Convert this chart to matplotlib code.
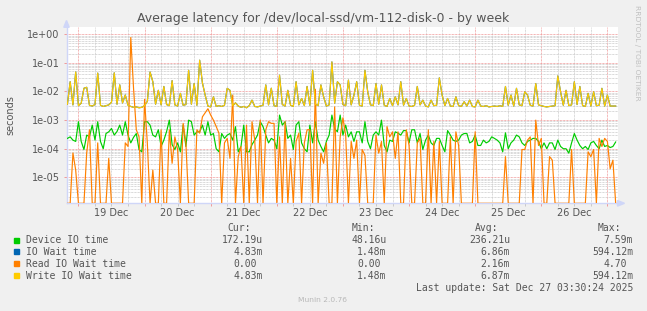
import matplotlib
matplotlib.use('Agg')
import matplotlib.pyplot as plt
import matplotlib.dates as mdates
from matplotlib.ticker import LogLocator, FuncFormatter, NullFormatter
from matplotlib.patches import Polygon, Rectangle
import numpy as np
import pandas as pd

# hourly samples, first sample at 2025-12-18 20:00
start = '2025-12-18 20:00'

device_io = [
    2.3e-4, 2.6e-4, 2.0e-4, 1.8e-4, 8.8e-4, 1.8e-4, 9.4e-5, 3.0e-4, 2.6e-4, 6.7e-4,
    2.0e-4, 8.8e-4, 1.8e-4, 1.0e-4, 3.4e-4, 3.9e-4, 5.1e-4, 3.0e-4, 4.0e-4, 6.7e-4,
    3.0e-4, 8.8e-4, 3.0e-4, 1.6e-4, 2.5e-4, 3.4e-4, 9.4e-5, 7.8e-5, 8.8e-4, 8.8e-4,
    6.7e-4, 3.0e-4, 2.6e-4, 4.6e-4, 1.2e-4, 2.0e-4, 4.0e-4, 1.0e-3, 1.4e-4, 9.4e-5,
    1.6e-4, 7.8e-5, 6.7e-4, 1.2e-4, 1.0e-3, 8.8e-4, 3.0e-4, 3.9e-4, 3.9e-4, 6.7e-4,
    3.0e-4, 8.8e-4, 3.0e-4, 3.4e-4, 1.0e-4, 7.8e-5, 3.4e-4, 2.3e-4, 3.0e-4, 3.4e-4,
    2.0e-4, 5.9e-4, 7.8e-5, 1.2e-4, 6.7e-4, 7.8e-5, 7.8e-5, 1.4e-4, 2.0e-4, 3.0e-4,
    8.8e-4, 5.9e-4, 3.0e-4, 1.6e-4, 2.3e-4, 2.0e-4, 1.0e-4, 1.5e-3, 6.7e-4, 8.8e-4,
    2.3e-4, 3.0e-4, 9.4e-5, 6.7e-4, 8.8e-4, 1.6e-4, 1.0e-4, 7.8e-5, 6.7e-4, 1.6e-4,
    8.8e-4, 2.0e-4, 1.2e-4, 7.8e-5, 1.8e-4, 3.0e-4, 1.5e-3, 5.0e-4, 3.9e-4, 1.5e-3,
    3.0e-4, 6.7e-4, 2.6e-4, 3.9e-4, 1.8e-4, 3.9e-4, 3.9e-4, 1.6e-4, 8.8e-4, 1.8e-4,
    1.0e-4, 3.0e-4, 3.9e-4, 3.0e-4, 1.0e-3, 1.3e-4, 7.8e-5, 2.0e-4, 1.8e-4, 3.9e-4,
    3.5e-4, 3.0e-4, 4.3e-4, 4.3e-4, 1.6e-4, 4.6e-4, 4.6e-4, 1.6e-4, 3.4e-4, 9.4e-5,
    2.0e-4, 3.0e-4, 1.6e-4, 1.3e-4, 2.3e-4, 2.3e-4, 1.3e-4, 7.8e-5, 4.3e-4, 3.0e-4,
    2.0e-4, 1.8e-4, 2.0e-4, 3.0e-4, 3.4e-4, 3.4e-4, 1.6e-4, 1.8e-4, 3.0e-4, 1.3e-4,
    1.3e-4, 2.0e-4, 1.6e-4, 1.8e-4, 2.6e-4, 2.3e-4, 2.0e-4, 1.6e-4, 7.8e-5, 3.6e-4,
    1.0e-4, 1.6e-4, 2.0e-4, 3.0e-4, 2.6e-4, 1.6e-4, 1.3e-4, 1.8e-4, 2.0e-4, 2.3e-4,
    2.3e-4, 1.8e-4, 1.0e-4, 1.6e-4, 1.0e-4, 1.6e-4, 1.6e-4, 9.4e-5, 2.0e-4, 1.2e-4,
    1.0e-4, 1.0e-4, 7.0e-5, 1.6e-4, 3.4e-4, 2.0e-4, 1.3e-4, 1.0e-4, 1.2e-4, 9.4e-5,
    1.6e-4, 1.8e-4, 1.3e-4, 1.0e-4, 2.0e-4, 1.2e-4, 1.3e-4, 1.1e-4, 1.2e-4, 1.72e-4,
]

write_wait = [
    3.6e-3, 0.022, 3.4e-3, 0.048, 3.2e-3, 3.9e-3, 0.013, 0.014, 3.3e-3, 3.1e-3,
    3.5e-3, 0.044, 3.3e-3, 3.0e-3, 3.2e-3, 3.4e-3, 4.2e-3, 0.045, 3.6e-3, 0.017,
    4.0e-3, 7.5e-3, 3.3e-3, 3.0e-3, 2.8e-3, 2.9e-3, 2.7e-3, 2.8e-3, 3.2e-3, 4.5e-3,
    0.048, 0.022, 3.6e-3, 0.011, 3.4e-3, 0.015, 3.5e-3, 3.2e-3, 0.024, 3.4e-3,
    3.1e-3, 8.6e-3, 3.3e-3, 3.5e-3, 0.055, 3.6e-3, 0.019, 3.3e-3, 0.124, 0.020,
    7.5e-3, 3.1e-3, 2.9e-3, 6.5e-3, 3.0e-3, 3.2e-3, 3.0e-3, 3.3e-3, 0.0129, 0.011,
    3.2e-3, 4.0e-3, 3.1e-3, 2.8e-3, 3.0e-3, 2.7e-3, 3.2e-3, 5.0e-3, 3.0e-3, 2.9e-3,
    3.1e-3, 3.3e-3, 0.017, 3.4e-3, 0.013, 3.2e-3, 3.0e-3, 0.037, 3.5e-3, 3.1e-3,
    0.011, 3.3e-3, 3.0e-3, 0.022, 3.4e-3, 5.7e-3, 3.2e-3, 0.015, 3.3e-3, 0.055,
    3.6e-3, 3.2e-3, 0.017, 6.5e-3, 3.1e-3, 3.4e-3, 0.108, 3.9e-3, 0.022, 0.017,
    3.5e-3, 3.2e-3, 0.025, 3.4e-3, 7.5e-3, 0.022, 3.3e-3, 3.1e-3, 0.055, 9.8e-3,
    3.4e-3, 3.2e-3, 0.019, 3.6e-3, 0.017, 3.3e-3, 3.0e-3, 5.7e-3, 3.2e-3, 6.5e-3,
    3.4e-3, 0.022, 3.3e-3, 5.7e-3, 3.1e-3, 3.0e-3, 3.3e-3, 0.015, 3.4e-3, 5.0e-3,
    3.1e-3, 2.9e-3, 5.0e-3, 3.2e-3, 3.3e-3, 0.030, 7.5e-3, 3.2e-3, 5.7e-3, 3.1e-3,
    3.0e-3, 6.5e-3, 3.2e-3, 3.0e-3, 4.4e-3, 3.1e-3, 5.0e-3, 3.0e-3, 2.9e-3, 5.0e-3,
    3.1e-3, 3.0e-3, 3.2e-3, 2.9e-3, 3.0e-3, 3.1e-3, 3.0e-3, 3.2e-3, 3.0e-3, 0.015,
    3.3e-3, 7.5e-3, 3.1e-3, 0.0129, 3.4e-3, 3.2e-3, 9.8e-3, 7.5e-3, 3.3e-3, 3.1e-3,
    0.019, 3.4e-3, 3.2e-3, 3.0e-3, 2.9e-3, 3.0e-3, 3.1e-3, 3.2e-3, 0.035, 9.8e-3,
    3.3e-3, 0.011, 3.2e-3, 3.4e-3, 0.022, 3.5e-3, 0.015, 3.2e-3, 3.0e-3, 8.6e-3,
    3.1e-3, 9.8e-3, 3.2e-3, 3.3e-3, 0.0129, 3.1e-3, 7.5e-3, 3.1e-3, 3.1e-3, 3.1e-3,
]

# overall io wait sits right under the write wait line
io_wait = list(write_wait)

read_wait = [
    0, 0, 7.1e-5, 1.8e-5, 0, 0, 0, 7.1e-5, 4.6e-4, 0,
    0, 1.6e-4, 0, 0, 0, 4.6e-5, 0, 0, 0, 0,
    0, 1.6e-4, 1.2e-4, 0.77, 0.013, 4.6e-4, 2.6e-4, 0, 5.3e-3, 1.6e-4,
    0, 1.8e-5, 0, 0, 4.6e-4, 0, 0, 4.6e-4, 3.1e-5, 2.6e-4,
    9.4e-5, 0, 7.7e-4, 1.6e-4, 0, 0, 0, 4.6e-4, 3.5e-4, 1.3e-3,
    1.8e-3, 2.5e-3, 1.5e-3, 1.0e-3, 6.0e-4, 3.5e-4, 0, 1.6e-4, 2.3e-4, 4.6e-5,
    7.5e-3, 0, 5.3e-5, 1.2e-4, 0, 6.7e-4, 0, 8.8e-4, 2.0e-4, 0,
    1.0e-3, 0, 4.6e-4, 8.8e-4, 7.7e-4, 7.7e-4, 0, 2.6e-4, 0, 8.8e-4,
    0, 4.6e-5, 0, 1.8e-4, 3.5e-4, 0, 1.6e-4, 4.6e-4, 4.6e-4, 0,
    0.012, 0, 7.0e-5, 3.1e-5, 1.6e-4, 0, 0, 2.9e-3, 0, 2.6e-4,
    1.2e-3, 3.0e-4, 0, 1.8e-4, 4.6e-5, 2.0e-4, 0, 9.4e-5, 5.8e-5, 0,
    0, 0, 3.0e-4, 7.0e-5, 1.8e-4, 0, 5.9e-4, 2.6e-4, 3.9e-4, 4.6e-5,
    3.9e-4, 0, 0, 4.6e-4, 1.3e-4, 0, 0, 1.6e-4, 2.3e-4, 0,
    0, 4.6e-4, 0, 1.8e-4, 0, 1.8e-4, 0, 0, 0, 2.6e-4,
    0, 3.9e-4, 1.3e-4, 0, 0, 0, 0, 0, 3.9e-4, 0,
    0, 0, 0, 0, 0, 0, 0, 0, 0, 5.3e-5,
    0, 0, 0, 0, 0, 9.4e-5, 9.4e-5, 2.0e-4, 2.6e-4, 0,
    1.0e-3, 1.3e-4, 2.3e-4, 0, 0, 5.3e-5, 4.0e-5, 0, 0, 0,
    0, 0, 0, 9.4e-5, 0, 0, 0, 0, 0, 7.8e-5,
    5.3e-5, 9.4e-5, 0, 2.3e-4, 1.2e-4, 2.3e-4, 1.8e-4, 2.0e-5, 4.0e-5, 0,
]

series_names = ['Device IO time', 'IO Wait time', 'Read IO Wait time', 'Write IO Wait time']
series_colors = ['#00cc00', '#0066b3', '#ff8000', '#ffcc00']
cur_vals = ['172.19u', '4.83m', '0.00 ', '4.83m']
min_vals = ['48.16u', '1.48m', '0.00 ', '1.48m']
avg_vals = ['236.21u', '6.86m', '2.16m', '6.87m']
max_vals = ['7.59m', '594.12m', '4.70 ', '594.12m']

W, H = 647, 311
times = pd.date_range(start, periods=len(device_io), freq='h')
y_bottom, y_top = 1.24e-6, 1.75

fig = plt.figure(figsize=(W / 100, H / 100), dpi=100, facecolor='#f0f0f0')
x0, x1, ytop, ybot = 66.5, 617.5, 27.3, 203.3
ax = fig.add_axes([x0 / W, 1 - ybot / H, (x1 - x0) / W, (ybot - ytop) / H])
ax.set_facecolor('white')
ax.set_yscale('log')
ax.set_ylim(y_bottom, y_top)
ax.set_xlim(pd.Timestamp('2025-12-18 19:40'), pd.Timestamp('2025-12-27 03:40'))

# zero values are drawn along the bottom edge like rrdtool does
for vals, col in zip([device_io, io_wait, read_wait, write_wait], series_colors):
    v = np.array(vals, dtype=float)
    v = np.where(v > 0, v, y_bottom)
    ax.plot(times, v, color=col, lw=0.85, zorder=3)

# grid
ax.xaxis.set_major_locator(mdates.DayLocator())
ax.xaxis.set_minor_locator(mdates.HourLocator(byhour=[6, 12, 18]))
ax.xaxis.set_major_formatter(NullFormatter())


def day_label(x, pos):
    d = mdates.num2date(x)
    if d.hour == 12:
        return f"{d.day} {d.strftime('%b')}"
    return ''


ax.xaxis.set_minor_formatter(FuncFormatter(day_label))
ax.yaxis.set_major_locator(LogLocator(base=10, numticks=20))
ax.yaxis.set_minor_locator(LogLocator(base=10, subs=np.arange(2, 10), numticks=20))
ax.yaxis.set_major_formatter(FuncFormatter(lambda v, p: f"{v:.0e}"))
ax.yaxis.set_minor_formatter(NullFormatter())

ax.grid(which='minor', color='#cccccc', linestyle=(0, (0.72, 0.72)), lw=0.72, zorder=1)
ax.grid(which='major', color='#f09a9a', linestyle=(0, (0.72, 0.72)), lw=0.72, zorder=1)
ax.set_axisbelow(True)

ax.tick_params(axis='x', which='major', length=2, width=0.7, color='#f09a9a')
ax.tick_params(axis='x', which='minor', length=2, width=0.7, color='#c8c8c8',
               labelsize=7, labelcolor='#555555', pad=1.5)
ax.tick_params(axis='y', which='major', length=2, width=0.7, color='#f09a9a',
               labelsize=7, labelcolor='#555555', pad=3)
ax.tick_params(axis='y', which='minor', length=0)

for s in ['top', 'right']:
    ax.spines[s].set_visible(False)
for s in ['left', 'bottom']:
    ax.spines[s].set_color('#cfd6f8')
    ax.spines[s].set_linewidth(1)
    ax.spines[s].set_zorder(2)


def px(x, y):
    return (x / W, 1 - y / H)


# axis arrows
fig.patches.append(Polygon([px(63.8, 27.3), px(69.2, 27.3), px(66.5, 20.5)],
                           closed=True, color='#cfd6f8', transform=fig.transFigure))
fig.patches.append(Polygon([px(617.5, 200.5), px(617.5, 206.1), px(624.5, 203.3)],
                           closed=True, color='#cfd6f8', transform=fig.transFigure))

# texts
fig.text(*px(323, 18.5), 'Average latency for /dev/local-ssd/vm-112-disk-0 - by week',
         ha='center', va='center', fontsize=9, color='#555555')
fig.text(*px(10, 115), 'seconds', rotation=90, ha='center', va='center',
         fontsize=7, color='#555555')
fig.text(*px(637.5, 5), 'RRDTOOL / TOBI OETIKER', rotation=270, ha='center', va='top',
         fontsize=5.4, color='#c0c0c0')
fig.text(*px(323, 300), 'Munin 2.0.76', ha='center', va='center', fontsize=5.4, color='#b8b8b8')

# legend
mono = dict(family='DejaVu Sans Mono', fontsize=7.0, color='#555555', va='center')
cw = 5.85
col_right = [263, 386.6, 510, 633]
for head, xr in zip(['Cur:', 'Min:', 'Avg:', 'Max:'], col_right):
    fig.text(*px(xr - 2 * cw, 228.3), head, ha='right', **mono)

row_y = [240, 251.8, 263.8, 275.8]
for i, (name, col) in enumerate(zip(series_names, series_colors)):
    y = row_y[i]
    fig.patches.append(Rectangle(px(14.4, y + 2.5), 5 / W, 5 / H, color=col,
                                 transform=fig.transFigure))
    fig.text(*px(26, y), name, ha='left', **mono)
    for vals, xr in zip([cur_vals, min_vals, avg_vals, max_vals], col_right):
        s = vals[i]
        trail = len(s) - len(s.rstrip())
        fig.text(*px(xr - trail * cw, y), s.rstrip(), ha='right', **mono)

fig.text(*px(633, 287.7), 'Last update: Sat Dec 27 03:30:24 2025', ha='right', **mono)

fig.savefig('out.png', dpi=100, facecolor=fig.get_facecolor())
